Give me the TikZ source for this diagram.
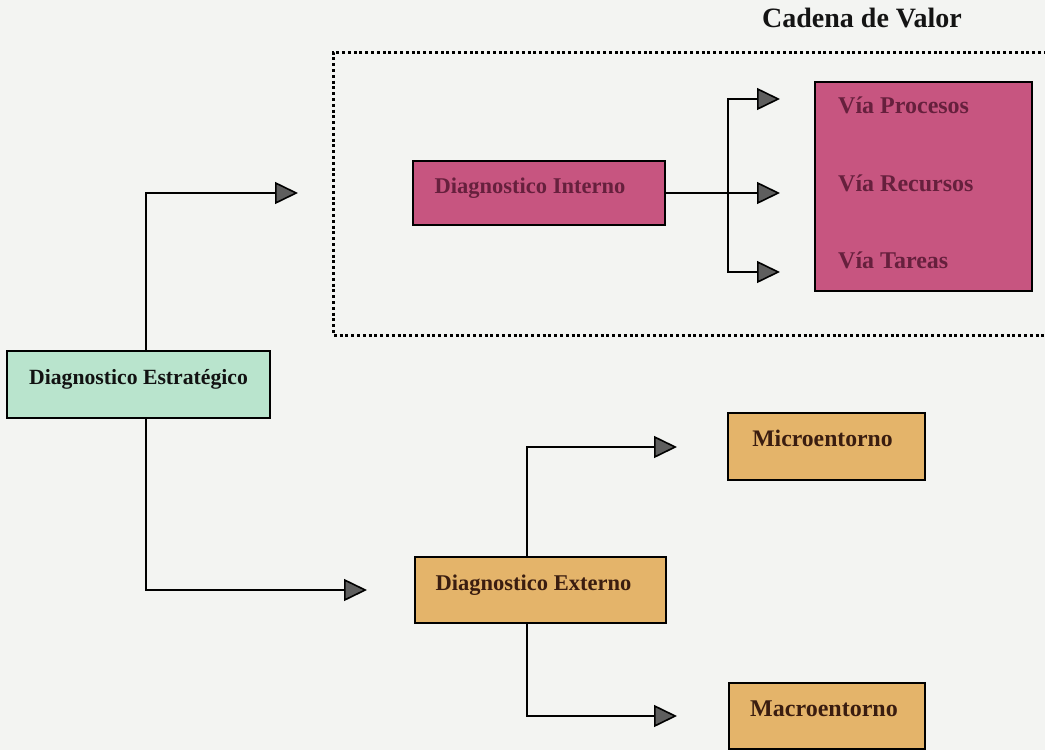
\documentclass[tikz,border=0pt]{standalone}
\usepackage{fontspec}
\setmainfont{Liberation Serif}
\usetikzlibrary{arrows.meta}

\definecolor{paper}{HTML}{F3F4F2}
\definecolor{mint}{HTML}{B9E4CD}
\definecolor{rose}{HTML}{C75580}
\definecolor{roseink}{HTML}{66203D}
\definecolor{sand}{HTML}{E4B46A}
\definecolor{sandink}{HTML}{3A1D10}
\definecolor{tipgray}{HTML}{5E5E5E}

% pushes a label left of the box centre by half the given width
\newcommand{\padright}[1]{\hspace*{#1}}

\begin{document}
\begin{tikzpicture}[x=1pt,y=-1pt,
  box/.style={draw=black, line width=2.4pt, inner sep=0pt,
    text height=0pt, text depth=0pt},
  conn/.style={line width=2.8pt, line join=miter,
    -{Triangle[length=23pt,width=22pt,fill=tipgray,line width=1.6pt]}},
  bold/.style={font=\bfseries\fontsize{#1}{#1}\selectfont}]

  % page
  \fill[paper] (0,0) rectangle (1045,750);
  \useasboundingbox (0,0) rectangle (1045,750);

  % title and dotted frame of the value chain
  \node[bold=28, anchor=base, text=black!92] (title) at (862,27) {Cadena de Valor};
  \draw[line width=3pt, dash pattern=on 3pt off 2.8pt]
    (1070,52) -- (333,52) -- (333,335) -- (1070,335);

  % boxes
  \node[box, fill=mint, text=black!93, bold=21.7, minimum width=263pt, minimum height=67pt]
    (est) at (138.5,384.5) {Diagnostico Estratégico};
  \node[box, fill=rose, text=roseink, bold=22.5, minimum width=252pt, minimum height=64pt]
    (int) at (539,193) {Diagnostico Interno\padright{18pt}};
  \node[box, fill=sand, text=sandink, bold=22.5, minimum width=251pt, minimum height=66pt]
    (ext) at (540.5,590) {Diagnostico Externo\padright{14pt}};
  \node[box, fill=sand, text=sandink, bold=23.7, minimum width=197pt, minimum height=67pt]
    (micro) at (826.5,446.5) {Microentorno\padright{8pt}};
  \node[box, fill=sand, text=sandink, bold=24, minimum width=196pt, minimum height=66pt]
    (macro) at (827,716) {Macroentorno\padright{6pt}};

  % the three ways of the value chain
  \node[box, fill=rose, minimum width=217pt, minimum height=209pt]
    (via) at (923.5,186.5) {};
  \node[bold=24, text=roseink, anchor=base west, inner sep=0pt] (vp) at (838,113) {Vía Procesos};
  \node[bold=24, text=roseink, anchor=base west, inner sep=0pt] (vr) at (838,191) {Vía Recursos};
  \node[bold=24, text=roseink, anchor=base west, inner sep=0pt] (vt) at (838,268) {Vía Tareas};

  % free arrow ends
  \coordinate (toInt) at (298,193);
  \coordinate (toExt) at (367,590);
  \coordinate (toVp) at (780,99);
  \coordinate (toVr) at (780,193);
  \coordinate (toVt) at (780,272);
  \coordinate (toMicro) at (677,447);
  \coordinate (toMacro) at (677,716);
  \coordinate (intFork) at (728,193);

  % connectors
  \draw[conn] ([xshift=7.5pt]est.north) |- (toInt);
  \draw[conn] ([xshift=7.5pt]est.south) |- (toExt);

  \draw[conn] (int.east) -- (toVr);
  \draw[conn] (intFork) |- (toVp);
  \draw[conn] (intFork) |- (toVt);

  \draw[conn] ([xshift=-13.5pt]ext.north) |- (toMicro);
  \draw[conn] ([xshift=-13.5pt]ext.south) |- (toMacro);
\end{tikzpicture}
\end{document}
